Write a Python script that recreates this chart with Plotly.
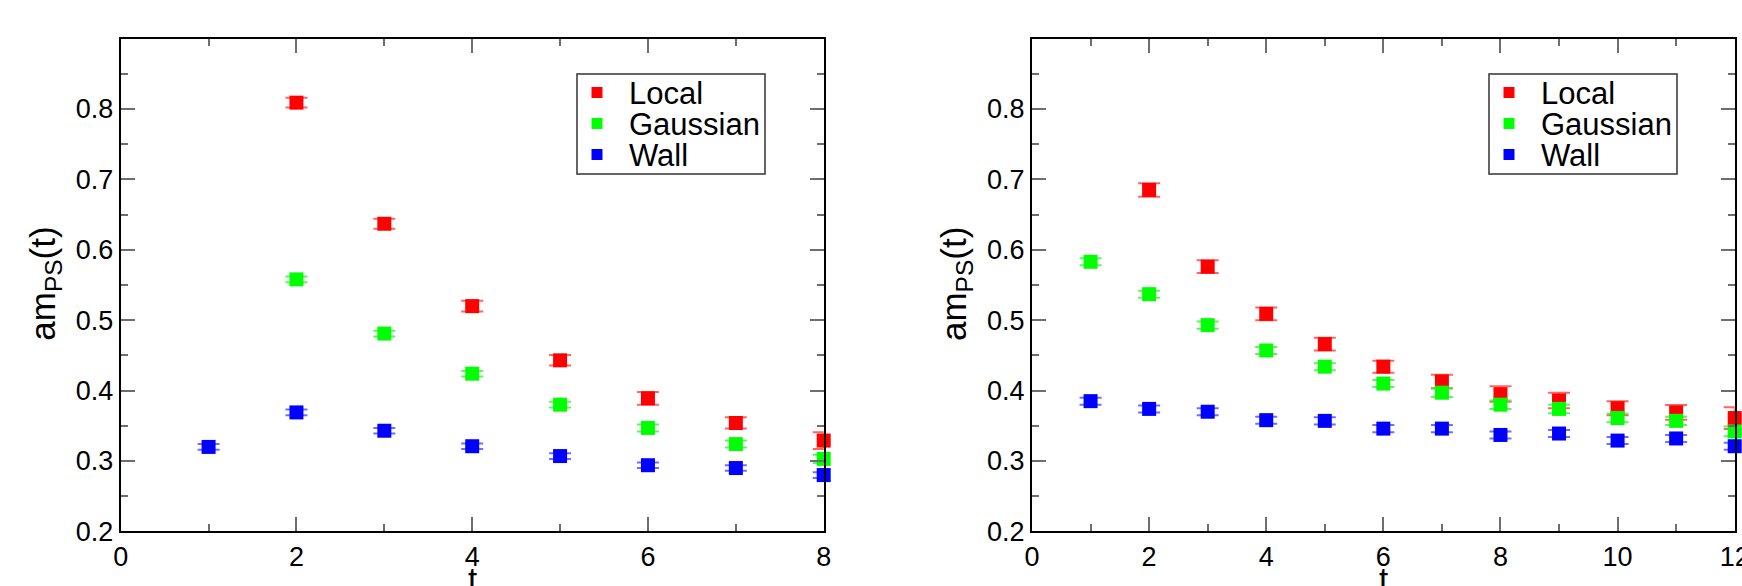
import plotly.graph_objects as go

W, H = 1742, 586

# ---------------- data ----------------
series_names = ["Local", "Gaussian", "Wall"]
series_colors = ["#ff0000", "#00ff00", "#0000ff"]
cap_colors = ["rgba(255,50,50,0.75)", "rgba(50,235,50,0.75)", "rgba(50,50,255,0.7)"]

# left panel
left_t_local = [2, 3, 4, 5, 6, 7, 8]
left_local = [0.809, 0.637, 0.520, 0.443, 0.389, 0.354, 0.329]
left_local_err = [0.007, 0.007, 0.0075, 0.0075, 0.009, 0.008, 0.012]

left_t_gauss = [2, 3, 4, 5, 6, 7, 8]
left_gauss = [0.558, 0.481, 0.424, 0.380, 0.347, 0.324, 0.303]
left_gauss_err = [0.004, 0.004, 0.004, 0.004, 0.005, 0.005, 0.006]

left_t_wall = [1, 2, 3, 4, 5, 6, 7, 8]
left_wall = [0.320, 0.369, 0.343, 0.321, 0.307, 0.294, 0.290, 0.280]
left_wall_err = [0.004, 0.004, 0.004, 0.004, 0.004, 0.004, 0.004, 0.004]

# right panel
right_t_local = [2, 3, 4, 5, 6, 7, 8, 9, 10, 11, 12]
right_local = [0.685, 0.576, 0.509, 0.466, 0.434, 0.413, 0.395, 0.386, 0.375, 0.369, 0.361]
right_local_err = [0.0095, 0.009, 0.009, 0.009, 0.0085, 0.0095, 0.011, 0.011, 0.010, 0.0105, 0.0155]

right_t_gauss = [1, 2, 3, 4, 5, 6, 7, 8, 9, 10, 11, 12]
right_gauss = [0.583, 0.537, 0.493, 0.457, 0.434, 0.410, 0.397, 0.380, 0.374, 0.361, 0.357, 0.342]
right_gauss_err = [0.005, 0.005, 0.005, 0.005, 0.005, 0.005, 0.006, 0.006, 0.006, 0.006, 0.006, 0.007]

right_t_wall = [1, 2, 3, 4, 5, 6, 7, 8, 9, 10, 11, 12]
right_wall = [0.385, 0.374, 0.370, 0.358, 0.357, 0.346, 0.346, 0.337, 0.339, 0.329, 0.332, 0.321]
right_wall_err = [0.005] * 12

y_tick_vals = [0.2, 0.3, 0.4, 0.5, 0.6, 0.7, 0.8]
y_tick_text = ["0.2", "0.3", "0.4", "0.5", "0.6", "0.7", "0.8"]

y_title = "am<sub>PS</sub>(t)"
x_title = "t"

# ---------------- helpers ----------------
def px(x):
    return x / W

def py(y):
    return 1 - y / H

FONT = "Liberation Sans, Arial, Helvetica, sans-serif"

fig = go.Figure()

panels = [
    ("x", "y", [(left_t_local, left_local, left_local_err),
                (left_t_gauss, left_gauss, left_gauss_err),
                (left_t_wall, left_wall, left_wall_err)]),
    ("x2", "y2", [(right_t_local, right_local, right_local_err),
                  (right_t_gauss, right_gauss, right_gauss_err),
                  (right_t_wall, right_wall, right_wall_err)]),
]

for xa, ya, sers in panels:
    for i, (tt, vv, ee) in enumerate(sers):
        fig.add_trace(go.Scatter(
            x=tt, y=vv, xaxis=xa, yaxis=ya, mode="markers",
            name=series_names[i], showlegend=False, cliponaxis=False,
            marker=dict(symbol="square", size=14, color=series_colors[i], line=dict(width=0)),
            error_y=dict(type="data", array=ee, visible=True, color=cap_colors[i],
                         thickness=2, width=11),
        ))

tick_color = "#6e6e6e"

def xaxis_cfg(domain, rng, anchor):
    return dict(
        domain=domain, range=rng, anchor=anchor, automargin=False,
        ticklabeloverflow="allow",
        showline=True, linecolor="black", linewidth=2, mirror="ticks",
        ticks="inside", ticklen=14, tickwidth=2, tickcolor=tick_color,
        dtick=2, tick0=0, showgrid=False, zeroline=False,
        tickfont=dict(family=FONT, size=27, color="black"),
        minor=dict(ticks="inside", ticklen=7, tickwidth=2, tickcolor=tick_color, dtick=1, showgrid=False),
    )

def yaxis_cfg(anchor):
    return dict(
        domain=[py(531.4), py(39.3)], range=[0.2, 0.899], anchor=anchor, automargin=False,
        ticklabeloverflow="allow",
        showline=True, linecolor="black", linewidth=2, mirror="ticks",
        ticks="inside", ticklen=14, tickwidth=2, tickcolor=tick_color,
        tickmode="array", tickvals=y_tick_vals, ticktext=y_tick_text,
        showgrid=False, zeroline=False,
        tickfont=dict(family=FONT, size=27, color="black"),
        minor=dict(ticks="inside", ticklen=7, tickwidth=2, tickcolor=tick_color,
                   tickmode="linear", tick0=0.25, dtick=0.1, showgrid=False),
    )

fig.update_layout(
    width=W, height=H, autosize=False,
    margin=dict(l=0, r=0, t=0, b=0, pad=0, autoexpand=False),
    paper_bgcolor="white", plot_bgcolor="white",
    showlegend=False,
    xaxis=xaxis_cfg([px(120.7), px(823.7)], [0, 8], "y"),
    xaxis2=xaxis_cfg([px(1032), px(1734.7)], [0, 12], "y2"),
    yaxis=yaxis_cfg("x"), yaxis2=yaxis_cfg("x2"),
    font=dict(family=FONT, color="black"),
)

annotations = []
shapes = []
for (axis_left, axis_right, leg_left, leg_right) in [(120.7, 823.7, 577, 765), (1032, 1734.7, 1489, 1677)]:
    # y-axis title
    annotations.append(dict(
        text=y_title, x=px(axis_left - 76), y=py(284), xref="paper", yref="paper",
        xanchor="center", yanchor="middle", textangle=-90, showarrow=False,
        font=dict(family=FONT, size=35, color="black"),
    ))
    # x-axis title
    annotations.append(dict(
        text=x_title, x=px((axis_left + axis_right) / 2), y=py(559), xref="paper", yref="paper",
        xanchor="center", yanchor="top", showarrow=False,
        font=dict(family=FONT, size=33, color="black"),
    ))
    # legend box
    shapes.append(dict(type="rect", xref="paper", yref="paper",
                       x0=px(leg_left), x1=px(leg_right), y0=py(174), y1=py(74),
                       line=dict(color="#333333", width=1.5), fillcolor="white", layer="above"))
    rows = [92.5, 123.5, 154.5]
    for i, yc in enumerate(rows):
        mx = leg_left + 20
        shapes.append(dict(type="rect", xref="paper", yref="paper",
                           x0=px(mx - 5.5), x1=px(mx + 5.5), y0=py(yc + 5.5), y1=py(yc - 5.5),
                           line=dict(width=0), fillcolor=series_colors[i], layer="above"))
        annotations.append(dict(
            text=series_names[i], x=px(leg_left + 50), y=py(yc + 1), xref="paper", yref="paper",
            xanchor="left", yanchor="middle", showarrow=False,
            font=dict(family=FONT, size=31, color="black"),
        ))

fig.update_layout(annotations=annotations, shapes=shapes)

fig.write_html(
    "out.html",
    post_script=(
        "document.body.style.margin='0px';"
        "document.body.style.padding='0px';"
        "document.documentElement.style.overflow='hidden';"
        "document.body.style.overflow='hidden';"
    ),
)
